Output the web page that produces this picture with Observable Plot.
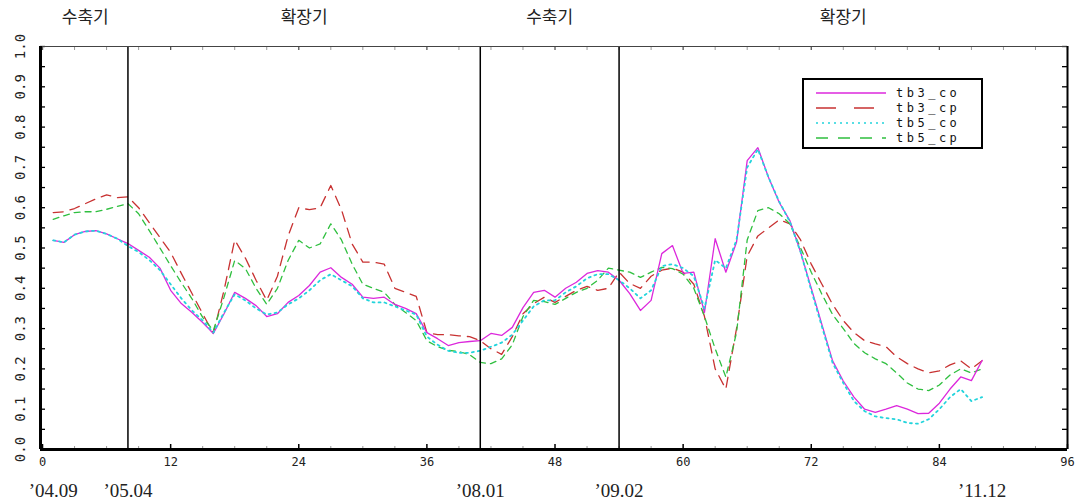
<!DOCTYPE html>
<html><head><meta charset="utf-8">
<script src="https://cdn.jsdelivr.net/npm/d3@7"></script>
<script src="https://cdn.jsdelivr.net/npm/@observablehq/plot@0.6"></script>
<style>
body{margin:0;background:#fff;}
#wrap{position:relative;width:1087px;height:504px;background:#fff;}
#legend{position:absolute;left:802px;top:78px;width:177px;height:67px;border:2px solid #000;background:#fff;}
#legend svg{display:block;}
</style></head><body><div id="wrap"></div>
<script>
// ---- data (index 1 = '04.09, monthly) ----
const seriesNames = ["tb3_co","tb3_cp","tb5_co","tb5_cp"];
const seriesColors = ["#dc28dc","#c83232","#22d4dc","#2fbf3f"];
const seriesDash = ["none","10,7","2,4","6,5"];

const tb3_co = [0.519,0.514,0.533,0.541,0.543,0.535,0.523,0.511,0.494,0.477,
 0.450,0.395,0.362,0.340,0.315,0.288,0.337,0.390,0.375,0.357,
 0.330,0.337,0.365,0.382,0.407,0.440,0.451,0.427,0.410,0.378,
 0.375,0.378,0.360,0.350,0.337,0.290,0.275,0.258,0.265,0.268,
 0.270,0.288,0.283,0.303,0.352,0.390,0.395,0.378,0.400,0.415,
 0.437,0.444,0.440,0.420,0.387,0.345,0.370,0.486,0.506,0.437,
 0.440,0.340,0.523,0.440,0.514,0.717,0.749,0.675,0.613,0.568,
 0.490,0.400,0.310,0.220,0.170,0.130,0.100,0.092,0.100,0.109,
 0.100,0.089,0.090,0.115,0.150,0.180,0.171,0.221];
const tb3_cp = [0.588,0.590,0.598,0.610,0.622,0.632,0.625,0.627,0.600,0.563,
 0.526,0.489,0.437,0.387,0.337,0.288,0.395,0.520,0.475,0.420,
 0.370,0.430,0.530,0.600,0.595,0.600,0.655,0.595,0.510,0.465,
 0.465,0.460,0.400,0.390,0.380,0.290,0.285,0.285,0.282,0.280,
 0.270,0.250,0.236,0.280,0.337,0.362,0.378,0.365,0.380,0.395,
 0.405,0.395,0.400,0.440,0.412,0.400,0.430,0.445,0.450,0.440,
 0.410,0.330,0.200,0.150,0.300,0.480,0.530,0.550,0.570,0.560,
 0.520,0.460,0.410,0.360,0.320,0.290,0.270,0.262,0.255,0.230,
 0.213,0.200,0.190,0.195,0.210,0.220,0.200,0.220];
const tb5_co = [0.519,0.514,0.533,0.541,0.543,0.535,0.523,0.505,0.490,0.470,
 0.445,0.410,0.375,0.345,0.320,0.290,0.340,0.385,0.370,0.350,
 0.335,0.340,0.360,0.375,0.395,0.420,0.435,0.420,0.405,0.375,
 0.365,0.365,0.355,0.345,0.335,0.280,0.260,0.245,0.240,0.240,
 0.245,0.255,0.265,0.285,0.320,0.355,0.370,0.370,0.390,0.405,
 0.425,0.435,0.435,0.420,0.400,0.375,0.395,0.455,0.460,0.450,
 0.430,0.350,0.470,0.450,0.520,0.700,0.745,0.675,0.615,0.565,
 0.490,0.395,0.305,0.215,0.165,0.120,0.095,0.082,0.078,0.075,
 0.066,0.064,0.075,0.100,0.130,0.150,0.120,0.130];
const tb5_cp = [0.571,0.580,0.588,0.590,0.590,0.596,0.603,0.610,0.585,0.543,
 0.500,0.456,0.414,0.374,0.328,0.295,0.378,0.469,0.449,0.400,
 0.360,0.400,0.469,0.519,0.500,0.510,0.560,0.520,0.460,0.410,
 0.400,0.390,0.360,0.340,0.320,0.270,0.255,0.246,0.243,0.235,
 0.216,0.213,0.225,0.260,0.330,0.370,0.367,0.360,0.375,0.390,
 0.400,0.420,0.450,0.445,0.440,0.427,0.440,0.452,0.449,0.435,
 0.400,0.330,0.250,0.180,0.290,0.520,0.593,0.600,0.585,0.560,
 0.500,0.440,0.385,0.335,0.300,0.263,0.240,0.225,0.213,0.190,
 0.165,0.150,0.146,0.160,0.185,0.200,0.190,0.200];

const periodBounds = [0, 8, 41, 54, 96];
const periodNames = ["수축기","확장기","수축기","확장기"];
const boundaryLines = [8, 41, 54];
const dateIdx = [1, 8, 41, 54, 88];
const dateLabels = ["’04.09","’05.04","’08.01","’09.02","’11.12"];
const xTickValues = [0,12,24,36,48,60,72,84,96];
const xMinorTicks = [3,6,9,15,18,21,27,30,33,39,42,45,51,54,57,63,66,69,75,78,81,87,90,93];
const yTickValues = [0,0.1,0.2,0.3,0.4,0.5,0.6,0.7,0.8,0.9,1.0];
const yMinorTicks = [0.05,0.15,0.25,0.35,0.45,0.55,0.65,0.75,0.85,0.95];

// ---- build ----
const allSeries = [tb3_co, tb3_cp, tb5_co, tb5_cp];
const rows = seriesNames.flatMap((name, k) =>
  allSeries[k].map((v, i) => ({series: name, x: i + 1, y: v})));
const periods = periodNames.map((n, i) => ({name: n, x: (periodBounds[i] + periodBounds[i+1]) / 2}));
const dates = dateLabels.map((t, i) => ({t, x: dateIdx[i]}));

const W = 1087, H = 504, mL = 40, mR = 20, mT = 46, mB = 55;
const innerW = W - mL - mR, innerH = H - mT - mB;
const xDomain = [-0.19, 96];

const lineOrder = [1, 3, 0, 2];
const lineMarks = lineOrder.map(k => Plot.line(rows.filter(d => d.series === seriesNames[k]), {
  x: "x", y: "y", stroke: seriesColors[k], strokeWidth: k === 2 ? 1.8 : 1.3,
  strokeDasharray: seriesDash[k] === "none" ? null : seriesDash[k]
}));

const plot = Plot.plot({
  width: W, height: H,
  marginLeft: mL, marginRight: mR, marginTop: mT, marginBottom: mB,
  x: {domain: xDomain, axis: null},
  y: {domain: [0, 1], axis: null},
  style: {background: "white", overflow: "visible"},
  marks: [
    // ticks (inward)
    Plot.ruleY(yTickValues, {stroke: "#000", strokeWidth: 1.3, insetRight: innerW - 5}),
    Plot.ruleY(yMinorTicks, {stroke: "#000", strokeWidth: 1.3, insetRight: innerW - 5}),
    Plot.ruleY(yTickValues, {stroke: "#000", strokeWidth: 1.3, insetLeft: innerW - 5}),
    Plot.ruleY(yMinorTicks, {stroke: "#000", strokeWidth: 1.3, insetLeft: innerW - 5}),
    Plot.ruleX(xMinorTicks, {stroke: "#999", strokeWidth: 1, insetTop: innerH - 3}),
    Plot.ruleX(xTickValues, {stroke: "#000", strokeWidth: 1.5, insetTop: innerH - 5}),
    Plot.ruleX(xMinorTicks, {stroke: "#999", strokeWidth: 1, insetBottom: innerH - 4}),
    Plot.ruleX(xTickValues, {stroke: "#555", strokeWidth: 1.3, insetBottom: innerH - 4}),
    ...lineMarks,
    Plot.ruleX(boundaryLines, {stroke: "#000", strokeWidth: 1.5}),
    // frame
    Plot.ruleY([1], {stroke: "#444", strokeWidth: 1.2}),
    Plot.ruleX([xDomain[1]], {stroke: "#000", strokeWidth: 2}),
    Plot.ruleX([xDomain[0]], {stroke: "#000", strokeWidth: 3}),
    Plot.ruleY([0], {stroke: "#000", strokeWidth: 3}),
    // tick labels
    Plot.text(xTickValues, {x: d => d, frameAnchor: "bottom", dy: 13, text: d => String(d),
      fontFamily: "DejaVu Sans Mono", fontSize: 12, fill: "#222", lineAnchor: "middle", ariaLabel: "xlabels"}),
    Plot.text(yTickValues, {y: d => d, frameAnchor: "left", dx: -20, text: d => d.toFixed(1),
      rotate: -90, textAnchor: "middle", fontFamily: "DejaVu Sans Mono", fontSize: 14, fill: "#222",
      lineAnchor: "middle"}),
    // period labels
    Plot.text(periods, {x: "x", frameAnchor: "top", dy: -29, text: "name",
      fontFamily: "Noto Sans CJK KR", fontSize: 17, fill: "#222", lineAnchor: "middle"}),
    // date labels
    Plot.text(dates, {x: "x", frameAnchor: "bottom", dy: 41, text: "t",
      fontFamily: "Liberation Serif", fontSize: 19, fill: "#222", lineAnchor: "middle"})
  ]
});
const xl = plot.querySelector('g[aria-label="xlabels"]');
if (xl) xl.style.letterSpacing = "3px";
const wrap = document.getElementById("wrap");
wrap.appendChild(plot);

// legend
const leg = document.createElement("div");
leg.id = "legend";
const ns = "http://www.w3.org/2000/svg";
const lsvg = document.createElementNS(ns, "svg");
lsvg.setAttribute("width", 177); lsvg.setAttribute("height", 67);
seriesNames.forEach((name, k) => {
  const yy = 13 + k * 15;
  const ln = document.createElementNS(ns, "line");
  ln.setAttribute("x1", 12); ln.setAttribute("x2", 82);
  ln.setAttribute("y1", yy); ln.setAttribute("y2", yy);
  ln.setAttribute("stroke", seriesColors[k]); ln.setAttribute("stroke-width", 1.5);
  if (seriesDash[k] !== "none") ln.setAttribute("stroke-dasharray", k === 1 ? "20,18" : seriesDash[k] === "6,5" ? "12,10" : seriesDash[k]);
  lsvg.appendChild(ln);
  const tx = document.createElementNS(ns, "text");
  tx.setAttribute("x", 92); tx.setAttribute("y", yy);
  tx.setAttribute("dominant-baseline", "central");
  tx.setAttribute("font-family", "DejaVu Sans Mono");
  tx.setAttribute("font-size", 12);
  tx.setAttribute("letter-spacing", "3.5px");
  tx.setAttribute("fill", "#111");
  tx.textContent = name;
  lsvg.appendChild(tx);
});
leg.appendChild(lsvg);
wrap.appendChild(leg);
</script>
</body></html>
